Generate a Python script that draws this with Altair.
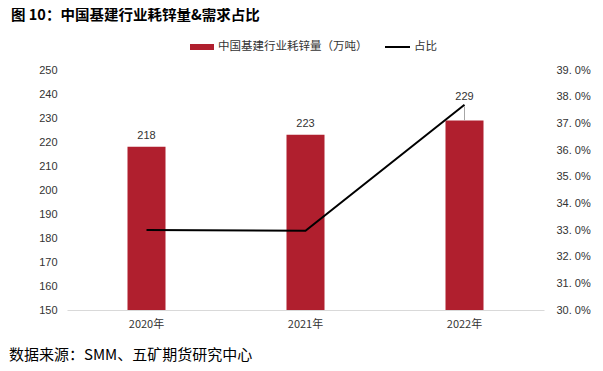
import altair as alt
import pandas as pd

years = ["2020年", "2021年", "2022年"]
consumption = [218, 223, 229]
share = [33.0, 32.97, 37.7]

title_text = "图 10：中国基建行业耗锌量&需求占比"
source_text = "数据来源：SMM、五矿期货研究中心"
bar_name = "中国基建行业耗锌量（万吨）"
line_name = "占比"

df = pd.DataFrame({"year": years, "v": consumption, "s": share})

BAR_COLOR = "#B01F2E"
CJK = "Noto Sans CJK SC"
NUM = "Liberation Sans"

x = alt.X("year:N", sort=years,
          scale=alt.Scale(paddingInner=0, paddingOuter=0),
          axis=alt.Axis(title=None, labelAngle=0, ticks=False, domainColor="#d9d9d9",
                        labelFont=CJK, labelFontSize=11, labelColor="#333333", labelPadding=8))

yl = alt.Scale(domain=[150, 250], zero=False, nice=False)
yaxis = alt.Axis(title=None, values=list(range(150, 251, 10)), grid=False, domain=False,
                 ticks=False, labelFont=NUM, labelFontSize=11, labelColor="#333333",
                 labelPadding=10, labelOverlap=False, tickCount=11)

bars = alt.Chart(df).mark_bar(size=38, color=BAR_COLOR).encode(
    x=x,
    y=alt.Y("v:Q", scale=yl, axis=yaxis),
    y2=alt.datum(150),
)

labels = alt.Chart(df).transform_filter("datum.v < 229").mark_text(
    dy=-11, font=NUM, fontSize=11, color="#333333").encode(
    x=alt.X("year:N", sort=years), y=alt.Y("v:Q", scale=yl, axis=yaxis), text="v:Q")

labels_hi = alt.Chart(df).transform_filter("datum.v >= 229").mark_text(
    dy=-23, font=NUM, fontSize=11, color="#333333").encode(
    x=alt.X("year:N", sort=years), y=alt.Y("v:Q", scale=yl, axis=yaxis), text="v:Q")

leader = alt.Chart(df).transform_filter("datum.v >= 229").transform_calculate(
    top="datum.v + 5.8").mark_rule(color="#a6a6a6", strokeWidth=1).encode(
    x=alt.X("year:N", sort=years), y=alt.Y("v:Q", scale=yl, axis=yaxis), y2="top:Q")

left = alt.layer(bars, leader, labels, labels_hi)

line = alt.Chart(df).mark_line(color="#000000", strokeWidth=2).encode(
    x=alt.X("year:N", sort=years),
    y=alt.Y("s:Q", scale=alt.Scale(domain=[30, 39], zero=False, nice=False),
            axis=alt.Axis(title=None, orient="right", values=list(range(30, 40)), grid=False,
                          domain=False, ticks=False, labelFont=NUM, labelFontSize=11,
                          labelColor="#333333", labelPadding=12, labelOverlap=False,
                          labelExpr="replace(format(datum.value, '.1f'), '.', '. ') + '%'")),
)

dummy = pd.DataFrame({"k": [0]})
title = alt.Chart(dummy).mark_text(align="left", baseline="middle", font=CJK, fontSize=14.5,
                                   fontWeight="bold", color="#000000").encode(
    x=alt.value(-56), y=alt.value(-54), text=alt.value(title_text))
source = alt.Chart(dummy).mark_text(align="left", baseline="middle", font=CJK, fontSize=15,
                                    color="#000000").encode(
    x=alt.value(-58), y=alt.value(285), text=alt.value(source_text))
leg_rect = alt.Chart(dummy).mark_rect(color=BAR_COLOR).encode(
    x=alt.value(123), x2=alt.value(147), y=alt.value(-26), y2=alt.value(-20))
leg_text1 = alt.Chart(dummy).mark_text(align="left", baseline="middle", font=CJK, fontSize=11.5,
                                       color="#333333").encode(
    x=alt.value(151), y=alt.value(-23), text=alt.value(bar_name))
leg_line = alt.Chart(dummy).mark_rule(color="#000000", strokeWidth=2).encode(
    x=alt.value(318), x2=alt.value(343), y=alt.value(-23))
leg_text2 = alt.Chart(dummy).mark_text(align="left", baseline="middle", font=CJK, fontSize=11.5,
                                       color="#333333").encode(
    x=alt.value(347), y=alt.value(-23), text=alt.value(line_name))

chart = alt.layer(left, line, title, source, leg_rect, leg_text1, leg_line, leg_text2).resolve_scale(
    y="independent").properties(
    width=477, height=240,
    autosize=alt.AutoSizeParams(type="none"),
    padding={"left": 59, "top": 62, "right": 51, "bottom": 53},
    background="#ffffff",
).configure_view(stroke=None)

chart.save("out.html", embed_options={"renderer": "svg", "actions": False})
